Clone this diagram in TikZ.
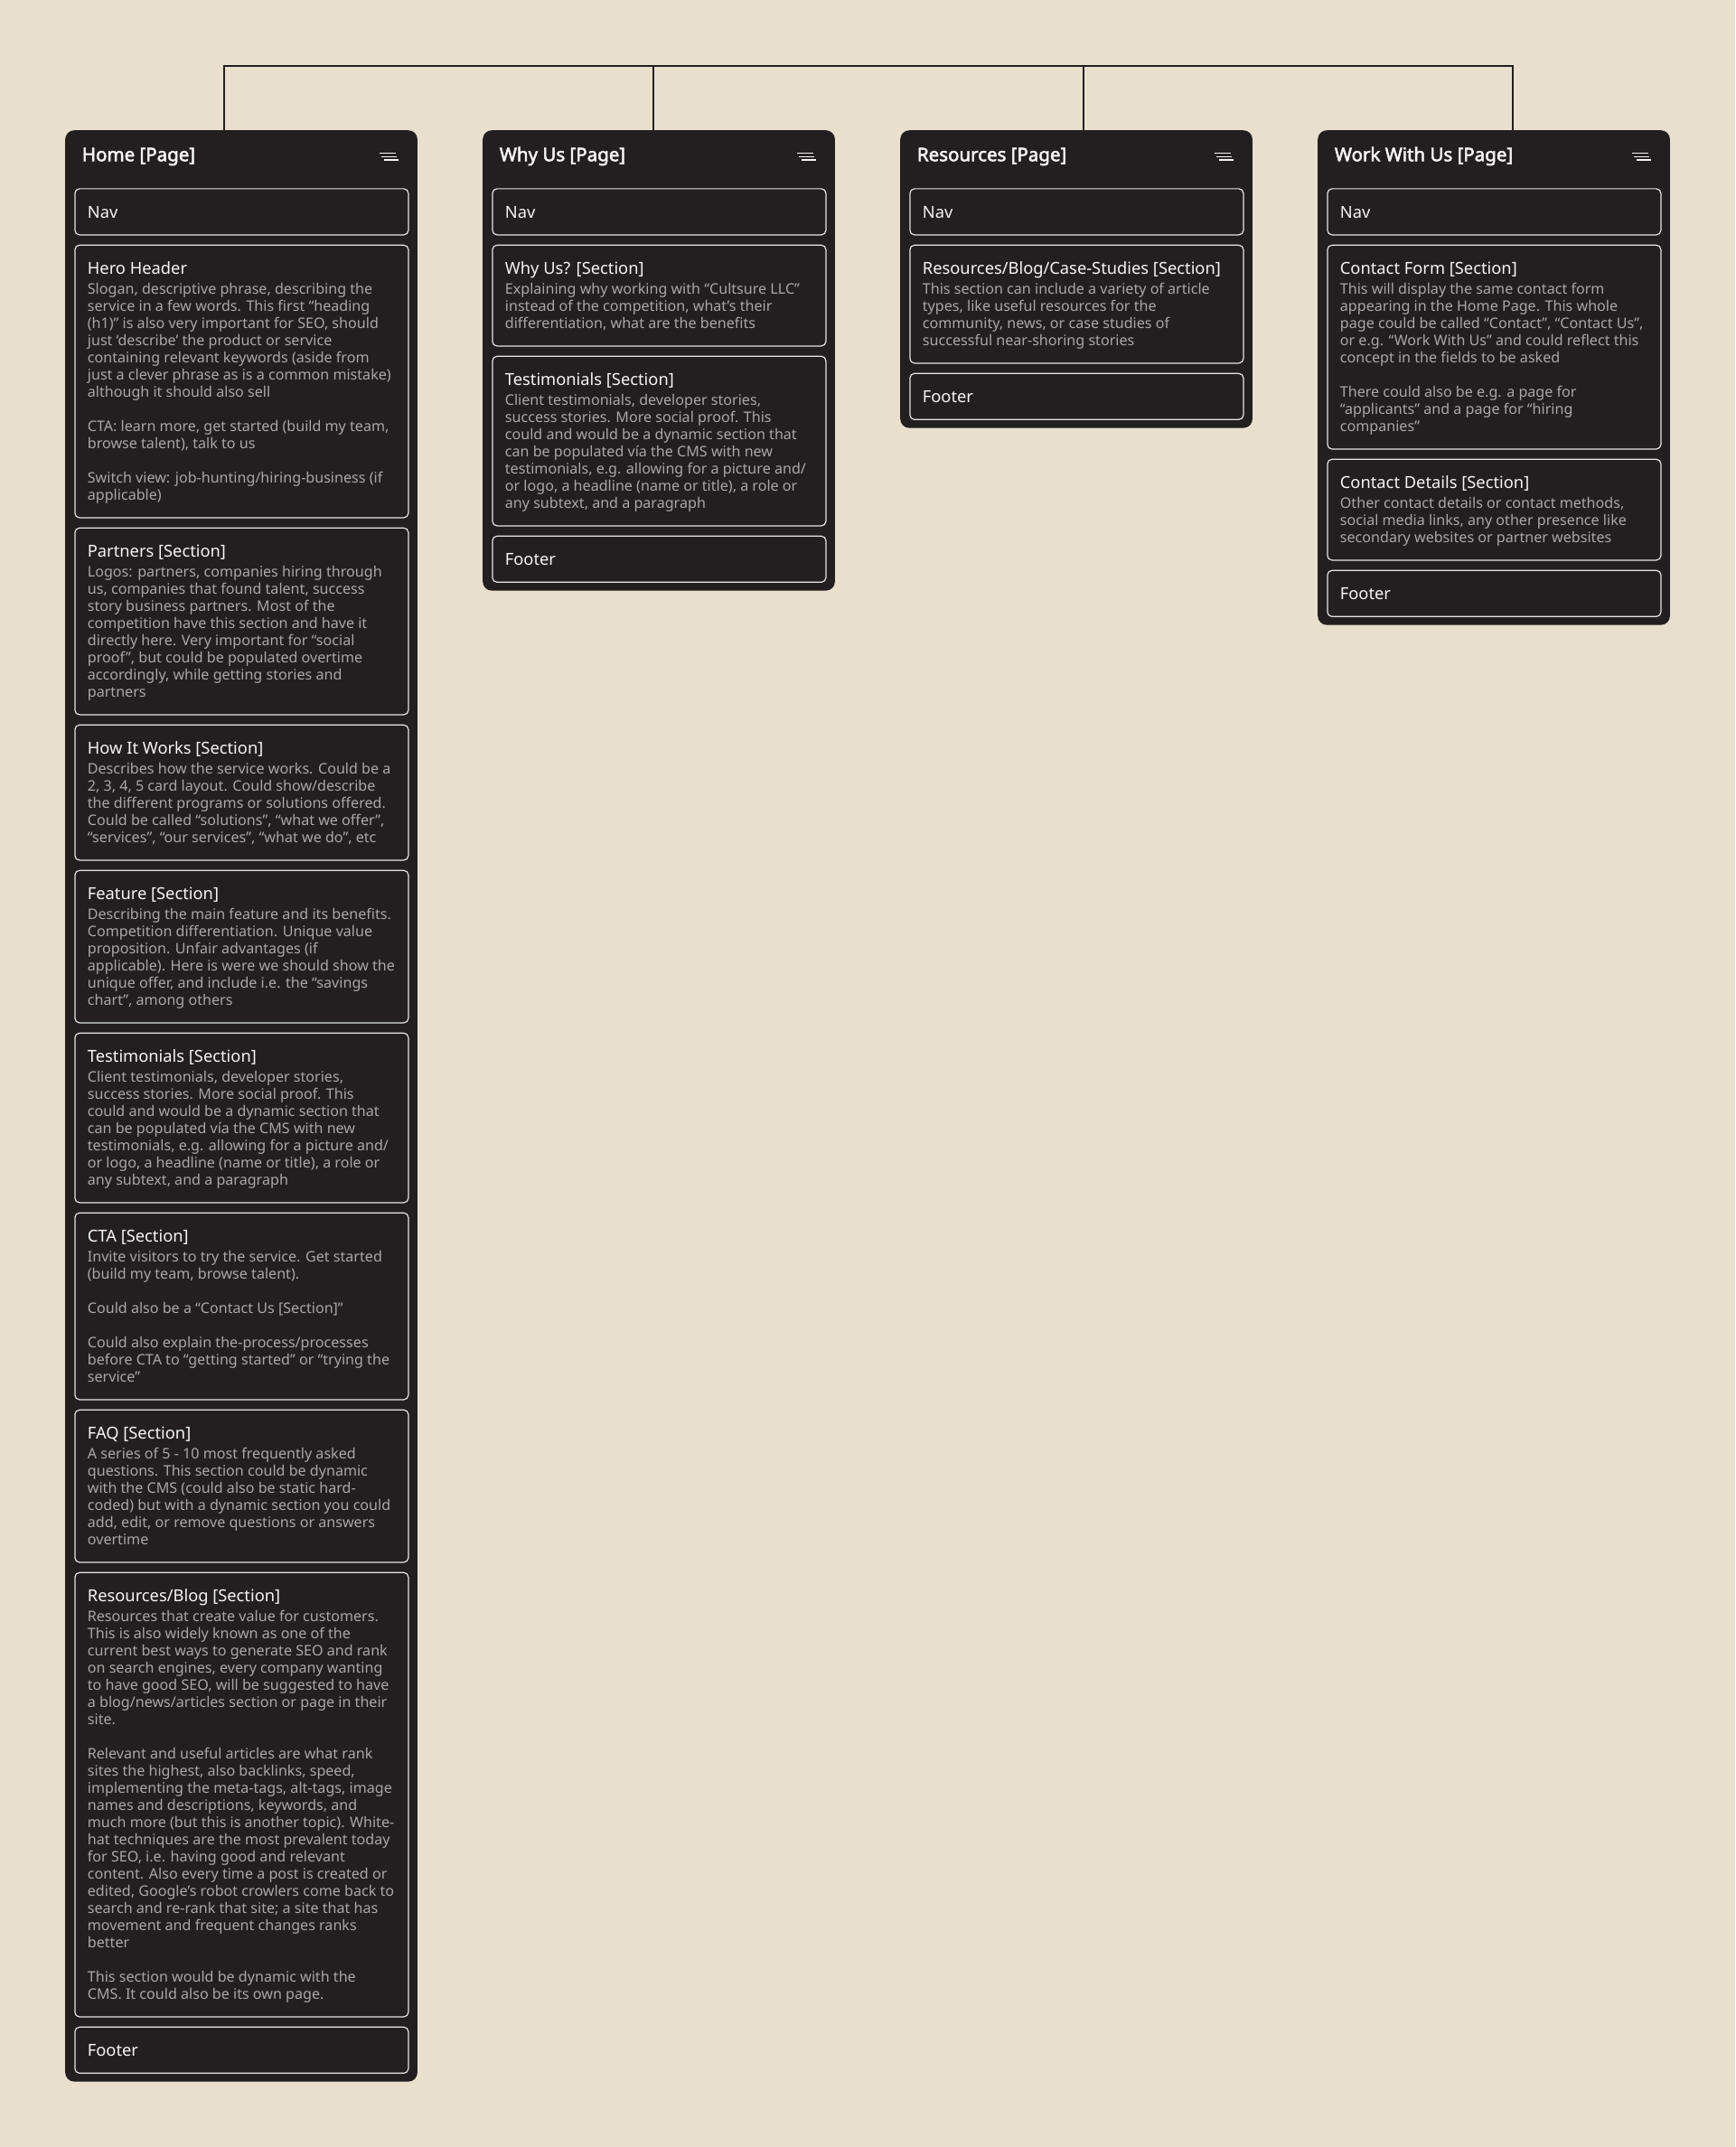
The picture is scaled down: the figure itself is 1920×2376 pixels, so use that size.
\documentclass[tikz,border=0pt]{standalone}
\usepackage{fontspec}
\setmainfont{Noto Sans}
\newfontfamily\titlefont{Noto Sans}[FakeBold=2.5]
\usetikzlibrary{calc}
\definecolor{bgc}{HTML}{E8E0CD}
\definecolor{cardc}{HTML}{231F20}
\definecolor{titlec}{HTML}{F5F5F5}
\definecolor{bodyc}{HTML}{ABA7A7}
\definecolor{borderc}{HTML}{E4E4E4}
\definecolor{linec}{HTML}{231F20}

\tikzset{
  card/.style={fill=cardc, rounded corners=10pt, minimum width=389.7pt, inner sep=0pt, anchor=north west},
  secbox/.style={draw=borderc, line width=1.2pt, rounded corners=5pt, minimum width=369pt, inner sep=0pt, anchor=north west},
  pagetitle/.style={anchor=base west, inner sep=0pt, text=titlec, font=\titlefont\fontsize{20.5}{24}\selectfont},
  sectitle/.style={anchor=base west, inner sep=0pt, text=titlec, font=\fontsize{18.3}{22}\selectfont},
  secbody/.style={anchor=base west, inner sep=0pt, text=bodyc, font=\fontsize{16.1}{19}\selectfont},
  menuline/.style={draw=titlec, line width=1.1pt},
  conn/.style={draw=linec, line width=2pt},
}

\newcommand\txl[1]{\hbox{#1}}
\newcommand\blines[1]{\vtop{\baselineskip=19pt\lineskiplimit=-100pt\lineskip=0pt #1}}
% name, card left, top, number of lines, title, lines
\newcommand\secbox[6]{%
  \pgfmathsetmacro\bxh{73.6+(#4-1)*19}%
  \node[secbox, minimum height=\bxh pt] (#1) at (#2+10.3,#3) {};
  \node[sectitle] (#1-t) at ([shift={(14.4pt,-32.6pt)}]#1.north west) {#5};
  \node[secbody] (#1-b) at ([shift={(14.4pt,-55pt)}]#1.north west) {\blines{#6}};
}
% name, card left, top, text
\newcommand\plainbox[4]{%
  \node[secbox, minimum height=51pt] (#1) at (#2+10.3,#3) {};
  \node[sectitle] (#1-t) at ([shift={(14.4pt,-32.7pt)}]#1.north west) {#4};
}
% name, left, height, title
\newcommand\pagecard[4]{%
  \node[card, minimum height=#3pt] (#1) at (#2,144) {};
  \node[pagetitle] (#1-title) at ([shift={(18.7pt,-34.3pt)}]#1.north west) {#4};
  \draw[menuline] ([shift={(-42pt,-25.5pt)}]#1.north east) -- ++(18pt,0pt);
  \draw[menuline] ([shift={(-40pt,-29.3pt)}]#1.north east) -- ++(17pt,0pt);
  \draw[menuline] ([shift={(-37pt,-33pt)}]#1.north east) -- ++(16pt,0pt);
}

\begin{document}
\begin{tikzpicture}[x=1pt,y=-1pt]
\useasboundingbox (0,0) rectangle (1920,2376);
\fill[bgc] (0,0) rectangle (1920,2376);

% ---------- cards ----------
\pagecard{home}{72}{2159.4}{Home [Page]}
\pagecard{whyus}{534}{509.4}{Why Us [Page]}
\pagecard{res}{996}{329.4}{Resources [Page]}
\pagecard{work}{1458}{547.4}{Work With Us [Page]}

% ---------- connectors ----------
\coordinate (b1) at (248,72.7);
\coordinate (b2) at (723.2,72.7);
\coordinate (b3) at (1198.5,72.7);
\coordinate (b4) at (1673.7,72.7);
\draw[conn] (b1 |- home.north) -- (b1) -- (b4) -- (b4 |- work.north);
\draw[conn] (b2) -- (b2 |- whyus.north);
\draw[conn] (b3) -- (b3 |- res.north);

% ---------- Home ----------
\plainbox{h-nav}{72}{208.3}{Nav}
\secbox{h-hero}{72}{270.7}{13}{Hero Header}{%
\txl{Slogan, descriptive phrase, describing the}
\txl{service in a few words. This first “heading}
\txl{(h1)” is also very important for SEO, should}
\txl{just ‘describe’ the product or service}
\txl{containing relevant keywords (aside from}
\txl{just a clever phrase as is a common mistake)}
\txl{although it should also sell}
\txl{}
\txl{CTA: learn more, get started (build my team,}
\txl{browse talent), talk to us}
\txl{}
\txl{Switch view: job-hunting/hiring-business (if}
\txl{applicable)}}
\secbox{h-partners}{72}{583.7}{8}{Partners [Section]}{%
\txl{Logos: partners, companies hiring through}
\txl{us, companies that found talent, success}
\txl{story business partners. Most of the}
\txl{competition have this section and have it}
\txl{directly here. Very important for “social}
\txl{proof”, but could be populated overtime}
\txl{accordingly, while getting stories and}
\txl{partners}}
\secbox{h-how}{72}{801.7}{5}{How It Works [Section]}{%
\txl{Describes how the service works. Could be a}
\txl{2, 3, 4, 5 card layout. Could show/describe}
\txl{the different programs or solutions offered.}
\txl{Could be called “solutions”, “what we offer”,}
\txl{“services”, “our services”, “what we do”, etc}}
\secbox{h-feature}{72}{962.7}{6}{Feature [Section]}{%
\txl{Describing the main feature and its benefits.}
\txl{Competition differentiation. Unique value}
\txl{proposition. Unfair advantages (if}
\txl{applicable). Here is were we should show the}
\txl{unique offer, and include i.e. the “savings}
\txl{chart”, among others}}
\secbox{h-testi}{72}{1142.7}{7}{Testimonials [Section]}{%
\txl{Client testimonials, developer stories,}
\txl{success stories. More social proof. This}
\txl{could and would be a dynamic section that}
\txl{can be populated vía the CMS with new}
\txl{testimonials, e.g. allowing for a picture and/}
\txl{or logo, a headline (name or title), a role or}
\txl{any subtext, and a paragraph}}
\secbox{h-cta}{72}{1341.7}{8}{CTA [Section]}{%
\txl{Invite visitors to try the service. Get started}
\txl{(build my team, browse talent).}
\txl{}
\txl{Could also be a “Contact Us [Section]”}
\txl{}
\txl{Could also explain the-process/processes}
\txl{before CTA to “getting started” or “trying the}
\txl{service”}}
\secbox{h-faq}{72}{1559.7}{6}{FAQ [Section]}{%
\txl{A series of 5 - 10 most frequently asked}
\txl{questions. This section could be dynamic}
\txl{with the CMS (could also be static hard-}
\txl{coded) but with a dynamic section you could}
\txl{add, edit, or remove questions or answers}
\txl{overtime}}
\secbox{h-blog}{72}{1739.7}{23}{Resources/Blog [Section]}{%
\txl{Resources that create value for customers.}
\txl{This is also widely known as one of the}
\txl{current best ways to generate SEO and rank}
\txl{on search engines, every company wanting}
\txl{to have good SEO, will be suggested to have}
\txl{a blog/news/articles section or page in their}
\txl{site.}
\txl{}
\txl{Relevant and useful articles are what rank}
\txl{sites the highest, also backlinks, speed,}
\txl{implementing the meta-tags, alt-tags, image}
\txl{names and descriptions, keywords, and}
\txl{much more (but this is another topic). White-}
\txl{hat techniques are the most prevalent today}
\txl{for SEO, i.e. having good and relevant}
\txl{content. Also every time a post is created or}
\txl{edited, Google’s robot crowlers come back to}
\txl{search and re-rank that site; a site that has}
\txl{movement and frequent changes ranks}
\txl{better}
\txl{}
\txl{This section would be dynamic with the}
\txl{CMS. It could also be its own page.}}
\plainbox{h-footer}{72}{2242.7}{Footer}

% ---------- Why Us ----------
\plainbox{w-nav}{534}{208.3}{Nav}
\secbox{w-why}{534}{270.7}{3}{Why Us? [Section]}{%
\txl{Explaining why working with “Cultsure LLC”}
\txl{instead of the competition, what’s their}
\txl{differentiation, what are the benefits}}
\secbox{w-testi}{534}{393.7}{7}{Testimonials [Section]}{%
\txl{Client testimonials, developer stories,}
\txl{success stories. More social proof. This}
\txl{could and would be a dynamic section that}
\txl{can be populated vía the CMS with new}
\txl{testimonials, e.g. allowing for a picture and/}
\txl{or logo, a headline (name or title), a role or}
\txl{any subtext, and a paragraph}}
\plainbox{w-footer}{534}{592.7}{Footer}

% ---------- Resources ----------
\plainbox{r-nav}{996}{208.3}{Nav}
\secbox{r-blog}{996}{270.7}{4}{Resources/Blog/Case-Studies [Section]}{%
\txl{This section can include a variety of article}
\txl{types, like useful resources for the}
\txl{community, news, or case studies of}
\txl{successful near-shoring stories}}
\plainbox{r-footer}{996}{412.7}{Footer}

% ---------- Work With Us ----------
\plainbox{k-nav}{1458}{208.3}{Nav}
\secbox{k-form}{1458}{270.7}{9}{Contact Form [Section]}{%
\txl{This will display the same contact form}
\txl{appearing in the Home Page. This whole}
\txl{page could be called “Contact”, “Contact Us”,}
\txl{or e.g. “Work With Us” and could reflect this}
\txl{concept in the fields to be asked}
\txl{}
\txl{There could also be e.g. a page for}
\txl{“applicants” and a page for “hiring}
\txl{companies”}}
\secbox{k-details}{1458}{507.7}{3}{Contact Details [Section]}{%
\txl{Other contact details or contact methods,}
\txl{social media links, any other presence like}
\txl{secondary websites or partner websites}}
\plainbox{k-footer}{1458}{630.7}{Footer}
\end{tikzpicture}
\end{document}
